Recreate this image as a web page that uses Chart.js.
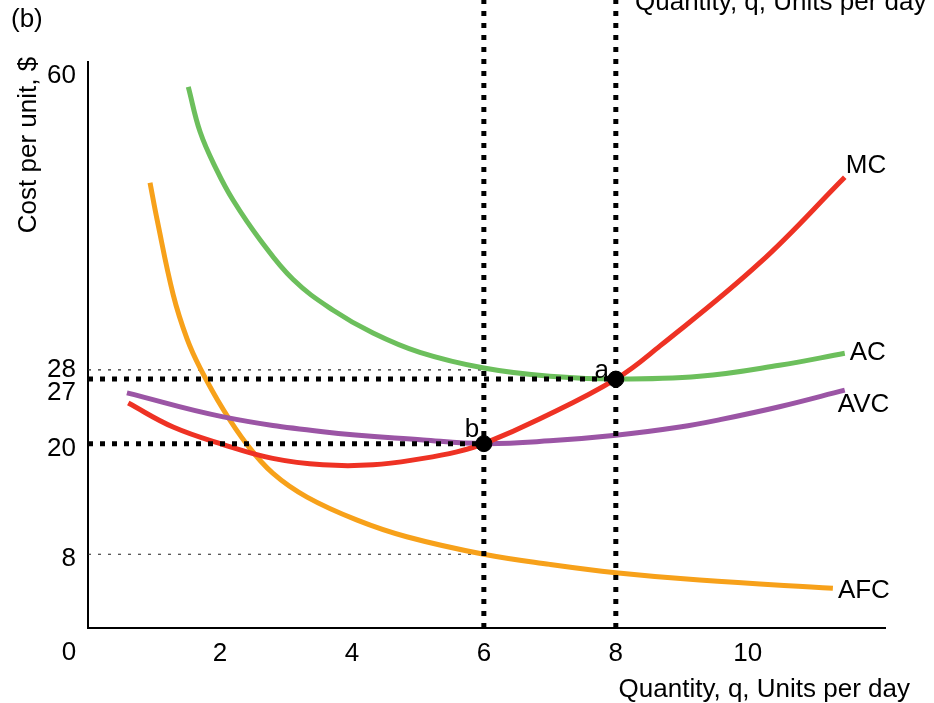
<!DOCTYPE html>
<html>
<head>
<meta charset="utf-8">
<script src="https://cdn.jsdelivr.net/npm/chart.js@4.4.1/dist/chart.umd.min.js"></script>
<style>
html,body{margin:0;padding:0;background:#fff;}
#wrap{position:relative;width:934px;height:703px;}
</style>
</head>
<body>
<div id="wrap"><canvas id="c" width="934" height="703"></canvas></div>
<script>
// ---- data ----
const xTicks = [2, 4, 6, 8, 10];
const yTicks = [8, 20, 27, 28, 60];

const mcX  = [0.61, 1.29, 2.05, 2.80, 3.56, 4.32, 5.08, 5.59, 6.0, 6.85, 8.0, 8.67, 10.18, 11.47];
const mcY  = [24.4, 21.8, 19.9, 18.4, 17.7, 17.7, 18.4, 19.1, 20.0, 22.7, 27.0, 30.6, 39.6, 48.9];

const acX  = [1.52, 1.70, 1.95, 2.20, 2.61, 3.11, 3.71, 4.32, 5.03, 6.0, 7.0, 8.0, 9.27, 10.48, 11.47];
const acY  = [58.7, 53.8, 49.7, 46.4, 42.1, 37.8, 34.5, 32.0, 29.9, 28.2, 27.3, 27.0, 27.3, 28.5, 29.8];

const avcX = [0.59, 2.05, 3.56, 5.08, 6.0, 7.0, 8.0, 8.97, 9.58, 10.48, 11.47];
const avcY = [25.5, 22.9, 21.3, 20.4, 20.0, 20.3, 20.9, 21.8, 22.6, 24.0, 25.8];

const afcX = [0.94, 1.05, 1.29, 1.5, 1.70, 2.05, 2.41, 2.80, 3.32, 4.08, 4.83, 6.0, 7.0, 8.0, 9.27, 11.29];
const afcY = [48.3, 44.2, 36.2, 31.4, 28.2, 23.7, 19.9, 16.8, 14.2, 11.7, 9.9, 8.0, 6.9, 6.0, 5.2, 4.3];

const curveNames = ['MC', 'AC', 'AVC', 'AFC'];

// marked points a (MC = AC) and b (MC = AVC)
const pointNames = ['a', 'b'];
const pointX = [8, 6];
const pointY = [27, 20];

// guide lines
const thickGuideY = [27, 20];
const thickGuideXEnd = [8, 6];
const thinGuideY = [28, 8];
const thinGuideXEnd = [6, 6];
const verticalGuideX = [6, 8];
const verticalTop = 68.5;

const xMax = 12.08, yMax = 61.4;

// ---- build ----
const zip = (xs, ys) => xs.map((x, i) => ({x: x, y: ys[i]}));
const FONT = '"Liberation Sans", Arial, sans-serif';
const colors = {MC: '#ee3224', AC: '#6cbf5c', AVC: '#9b55a5', AFC: '#f7a11a'};

const datasets = [];
thinGuideY.forEach((y, i) => datasets.push({
  data: [{x: 0, y: y}, {x: thinGuideXEnd[i], y: y}],
  borderColor: '#222', borderWidth: 1.2, borderDash: [3, 7], pointRadius: 0, order: 5
}));
const curves = {MC: [mcX, mcY], AC: [acX, acY], AVC: [avcX, avcY], AFC: [afcX, afcY]};
curveNames.forEach(n => datasets.push({
  label: n, data: zip(curves[n][0], curves[n][1]),
  borderColor: colors[n], borderWidth: 5, pointRadius: 0,
  tension: 0.4, borderCapStyle: 'butt', order: 3
}));
thickGuideY.forEach((y, i) => datasets.push({
  data: [{x: 0, y: y}, {x: thickGuideXEnd[i], y: y}],
  borderColor: '#000', borderWidth: 5, borderDash: [5, 7], borderCapStyle: 'butt',
  pointRadius: 0, order: 2
}));
verticalGuideX.forEach(x => datasets.push({
  data: [{x: x, y: 0}, {x: x, y: verticalTop}],
  borderColor: '#000', borderWidth: 5, borderDash: [5, 7], borderCapStyle: 'butt',
  pointRadius: 0, clip: false, order: 2
}));
datasets.push({
  type: 'scatter', data: zip(pointX, pointY),
  pointRadius: 8, pointBackgroundColor: '#000', pointBorderColor: '#000', order: 0
});

const textPlugin = {
  id: 'texts',
  afterDraw(chart) {
    const ctx = chart.ctx, xs = chart.scales.x, ys = chart.scales.y;
    ctx.save();
    ctx.fillStyle = '#000';
    ctx.font = '26px ' + FONT;
    ctx.textBaseline = 'alphabetic';
    // y tick labels (nudged apart like the reference)
    const yOff = {60: 8, 28: 7, 27: 21, 20: 12, 8: 12};
    ctx.textAlign = 'right';
    yTicks.forEach(v => ctx.fillText(String(v), 76, ys.getPixelForValue(v) + yOff[v]));
    // curve labels near curve ends
    const offs = {MC: [1, -4], AC: [5, 7], AVC: [-7, 22], AFC: [5, 10]};
    ctx.textAlign = 'left';
    curveNames.forEach(n => {
      const xa = curves[n][0], ya = curves[n][1], k = xa.length - 1;
      ctx.fillText(n, xs.getPixelForValue(xa[k]) + offs[n][0], ys.getPixelForValue(ya[k]) + offs[n][1]);
    });
    // point labels
    const poffs = [[-14, -1], [-12, -7]];
    ctx.textAlign = 'center';
    pointNames.forEach((n, i) => {
      ctx.fillText(n, xs.getPixelForValue(pointX[i]) + poffs[i][0], ys.getPixelForValue(pointY[i]) + poffs[i][1]);
    });
    // origin label
    ctx.fillText('0', 69, 660);
    // panel tag
    ctx.textAlign = 'left';
    ctx.fillText('(b)', 11, 27);
    // x axis title
    ctx.textAlign = 'right';
    ctx.fillText('Quantity, q, Units per day', 910, 697);
    // cut-off title of the panel above
    ctx.textAlign = 'left';
    ctx.fillText('Quantity, q, Units per day', 635, 10);
    // y axis title
    ctx.save();
    ctx.translate(29, 145);
    ctx.rotate(-Math.PI / 2);
    ctx.textAlign = 'center';
    ctx.textBaseline = 'middle';
    ctx.fillText('Cost per unit, $', 0, 0);
    ctx.restore();
    ctx.restore();
  }
};

new Chart(document.getElementById('c'), {
  type: 'line',
  data: {datasets: datasets},
  options: {
    responsive: false, animation: false, events: [],
    layout: {padding: {top: 62, right: 49, left: 0, bottom: 0}},
    plugins: {legend: {display: false}, tooltip: {enabled: false}},
    scales: {
      x: {
        type: 'linear', min: 0, max: xMax,
        afterBuildTicks: s => { s.ticks = xTicks.map(v => ({value: v})); },
        afterFit: s => { s.height = 75; },
        grid: {display: false, drawTicks: false},
        border: {display: true, color: '#000', width: 2},
        ticks: {color: '#000', font: {family: FONT, size: 26}, padding: 10, maxRotation: 0, autoSkip: false}
      },
      y: {
        type: 'linear', min: 0, max: yMax,
        afterBuildTicks: s => { s.ticks = yTicks.map(v => ({value: v})); },
        afterFit: s => { s.width = 88; },
        grid: {display: false, drawTicks: false},
        border: {display: true, color: '#000', width: 2},
        ticks: {display: false}
      }
    }
  },
  plugins: [textPlugin]
});
</script>
</body>
</html>
